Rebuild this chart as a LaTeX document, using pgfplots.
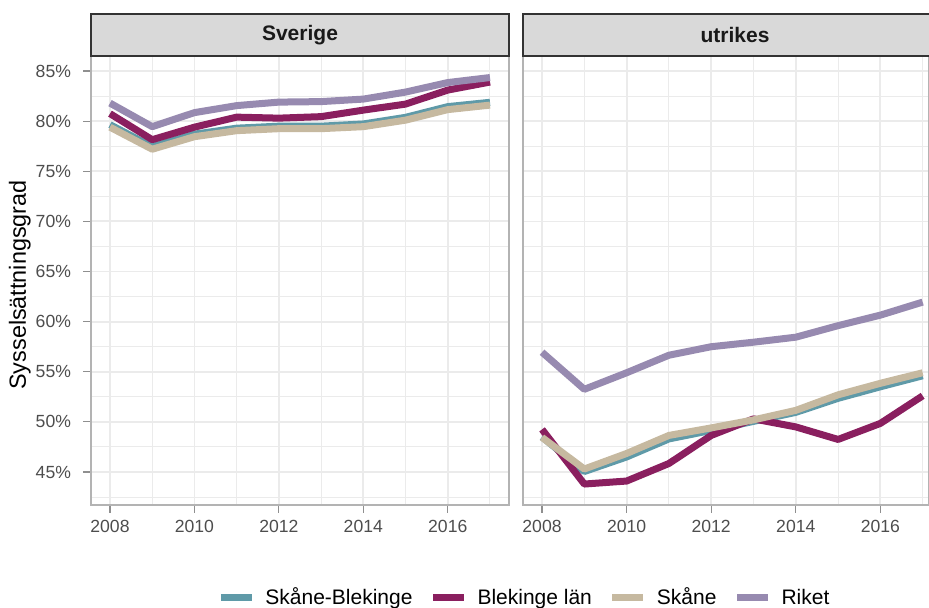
\documentclass[border=0pt]{standalone}
\usepackage{pgfplots}
\pgfplotsset{compat=1.18}
\usepackage{fontspec}
\setmainfont{Liberation Sans}

\definecolor{skbl}{HTML}{5F9AA8}
\definecolor{blek}{HTML}{8A1F5F}
\definecolor{skane}{HTML}{C6B9A0}
\definecolor{riket}{HTML}{978AB0}
\definecolor{gridc}{HTML}{EBEBEB}
\definecolor{bordc}{HTML}{B3B3B3}
\definecolor{tickc}{HTML}{4D4D4D}
\definecolor{stripc}{HTML}{D9D9D9}
\definecolor{stripb}{HTML}{333333}

\pgfplotsset{
  panel/.style={
    scale only axis, anchor=south west,
    height=224.5pt,
    xmin=2007.55, ymin=41.71, ymax=86.5,
    xtick={2008,2010,2012,2014,2016},
    minor xtick={2009,2011,2013,2015,2017},
    ytick={45,50,55,60,65,70,75,80,85},
    minor ytick={42.5,47.5,52.5,57.5,62.5,67.5,72.5,77.5,82.5},
    grid=both,
    major grid style={color=gridc, line width=0.9pt},
    minor grid style={color=gridc, line width=0.5pt},
    axis line style={color=bordc, line width=0.6pt},
    tick align=outside, xtick pos=bottom, ytick pos=left,
    major tick length=4pt, minor tick length=0pt,
    tick style={color=bordc!80!black, line width=0.6pt},
    /pgf/number format/assume math mode=true,
    /pgf/number format/1000 sep={},
    tick label style={font=\fontsize{8.8}{10}\selectfont, text=tickc},
    every axis plot/.append style={line width=3.5pt, line join=round, line cap=butt, no marks},
    legend image code/.code={\draw[#1, line width=3.5pt] (0pt,0pt) -- (15.5pt,0pt);},
  },
}

\begin{document}
\begin{tikzpicture}
\path[use as bounding box] (0pt,0pt) rectangle (464.5pt,304pt);

% panel Sverige
\begin{axis}[panel, name=L, at={(45.5pt,51.5pt)}, width=209pt, xmax=2017.45,
  yticklabels={45\%,50\%,55\%,60\%,65\%,70\%,75\%,80\%,85\%},
  yticklabel style={xshift=-2.5pt},
  ylabel={Sysselsättningsgrad},
  ylabel style={font=\fontsize{11.7}{13}\selectfont, at={(axis description cs:-0.17,0.49)}, anchor=center},
]
\addplot[skbl] coordinates {(2008,79.65) (2009,77.45) (2010,78.7) (2011,79.3) (2012,79.5) (2013,79.5) (2014,79.72) (2015,80.38) (2016,81.45) (2017,81.88)};
\addplot[blek] coordinates {(2008,80.75) (2009,78.15) (2010,79.4) (2011,80.4) (2012,80.3) (2013,80.45) (2014,81.1) (2015,81.7) (2016,83.1) (2017,83.9)};
\addplot[skane] coordinates {(2008,79.4) (2009,77.2) (2010,78.45) (2011,79.05) (2012,79.25) (2013,79.25) (2014,79.45) (2015,80.1) (2016,81.15) (2017,81.6)};
\addplot[riket] coordinates {(2008,81.8) (2009,79.45) (2010,80.85) (2011,81.55) (2012,81.9) (2013,81.95) (2014,82.2) (2015,82.9) (2016,83.85) (2017,84.35)};
\end{axis}

% panel utrikes
\begin{axis}[panel, name=R, at={(261.5pt,51.5pt)}, width=203pt, xmax=2017.15,
  yticklabels={}, ytick style={draw=none},
  legend columns=4,
  legend style={draw=none, fill=none, at={(0.001,-0.207)}, anchor=center,
    font=\fontsize{10.5}{12}\selectfont, nodes={inner sep=0pt},
    /tikz/every odd column/.append style={column sep=5pt},
    /tikz/every even column/.append style={column sep=8.5pt}},
]
\addplot[skbl] coordinates {(2008,48.5) (2009,45.05) (2010,46.5) (2011,48.3) (2012,49.15) (2013,50.05) (2014,50.95) (2015,52.35) (2016,53.5) (2017,54.6)};
\addplot[blek] coordinates {(2008,49.25) (2009,43.8) (2010,44.1) (2011,45.85) (2012,48.65) (2013,50.3) (2014,49.5) (2015,48.25) (2016,49.85) (2017,52.6)};
\addplot[skane] coordinates {(2008,48.45) (2009,45.3) (2010,46.85) (2011,48.65) (2012,49.4) (2013,50.2) (2014,51.15) (2015,52.7) (2016,53.85) (2017,54.9)};
\addplot[riket] coordinates {(2008,56.95) (2009,53.25) (2010,54.9) (2011,56.65) (2012,57.5) (2013,57.95) (2014,58.45) (2015,59.6) (2016,60.65) (2017,61.95)};
\legend{Skåne-Blekinge, Blekinge län, Skåne, Riket}
\end{axis}

% facet strips
\draw[fill=stripc, draw=stripb, line width=0.75pt] (L.north west) rectangle ++(209pt,21pt)
  node[midway, text=black!90, font=\bfseries\fontsize{10.5}{12}\selectfont] {Sverige};
\draw[fill=stripc, draw=stripb, line width=0.75pt] (R.north west) rectangle ++(210pt,21pt);
\node[text=black!90, font=\bfseries\fontsize{10.5}{12}\selectfont] at ([xshift=106pt,yshift=10.5pt]R.north west) {utrikes};
\end{tikzpicture}
\end{document}
